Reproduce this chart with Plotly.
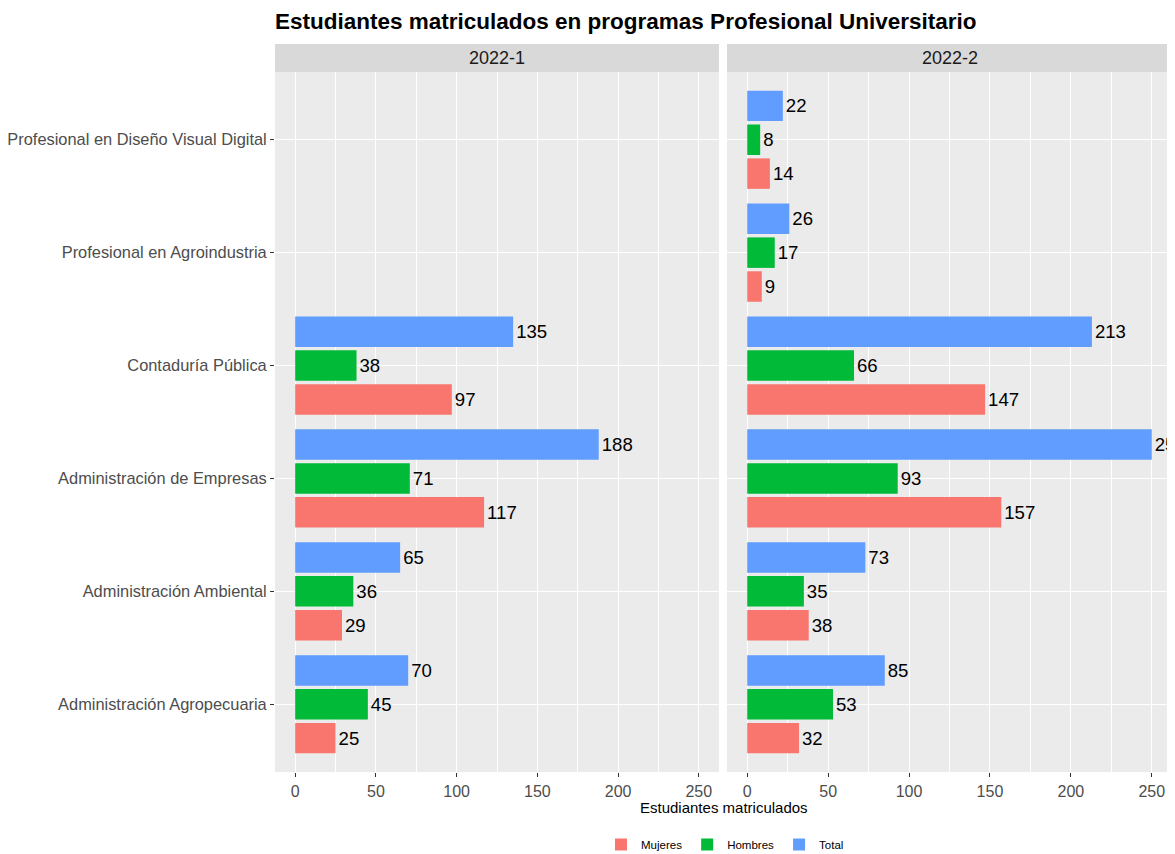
import plotly.graph_objects as go
from plotly.subplots import make_subplots

categories = [
    "Administración Agropecuaria",
    "Administración Ambiental",
    "Administración de Empresas",
    "Contaduría Pública",
    "Profesional en Agroindustria",
    "Profesional en Diseño Visual Digital",
]
periods = ["2022-1", "2022-2"]
series_names = ["Mujeres", "Hombres", "Total"]
series_colors = ["#F8766D", "#00BA38", "#619CFF"]

mujeres_2022_1 = [25, 29, 117, 97, None, None]
hombres_2022_1 = [45, 36, 71, 38, None, None]
total_2022_1 = [70, 65, 188, 135, None, None]

mujeres_2022_2 = [32, 38, 157, 147, 9, 14]
hombres_2022_2 = [53, 35, 93, 66, 17, 8]
total_2022_2 = [85, 73, 250, 213, 26, 22]

data = {
    "2022-1": [mujeres_2022_1, hombres_2022_1, total_2022_1],
    "2022-2": [mujeres_2022_2, hombres_2022_2, total_2022_2],
}

# page body has an 8px default margin, so the figure is drawn 8px smaller
W, H = 1167, 846
ML, MR, MT, MB = 267, 3, 36, 82
PW = W - ML - MR
PH = H - MT - MB
FONT = "Liberation Sans, Arial, sans-serif"

fig = make_subplots(rows=1, cols=2, shared_yaxes=False, horizontal_spacing=0.0)

for ci, period in enumerate(periods):
    for si, name in enumerate(series_names):
        vals = data[period][si]
        fig.add_trace(
            go.Bar(
                x=vals,
                y=categories,
                orientation="h",
                name=name,
                marker=dict(color=series_colors[si], line=dict(width=0)),
                text=[("" if v is None else str(v)) for v in vals],
                textposition="outside",
                textfont=dict(color="black", size=18.6, family=FONT),
                constraintext="none",
                cliponaxis=True,
                showlegend=(ci == 0),
                legendgroup=name,
                hoverinfo="x+y+name",
            ),
            row=1,
            col=ci + 1,
        )

d1 = [0, 444 / PW]
d2 = [452 / PW, 1]
ytop = 700 / PH

axis_common = dict(
    range=[-12.5, 262.5],
    tickvals=[0, 50, 100, 150, 200, 250],
    ticks="outside",
    ticklen=4,
    tickcolor="#333333",
    tickwidth=1,
    tickfont=dict(size=16, color="#4D4D4D", family=FONT),
    ticklabelstandoff=1,
    showgrid=True,
    gridcolor="white",
    gridwidth=1.3,
    zeroline=False,
    showline=False,
    automargin=False,
    minor=dict(tickvals=[25, 75, 125, 175, 225], showgrid=True, gridcolor="white", gridwidth=0.6, ticks=""),
    fixedrange=True,
)
fig.update_xaxes(**axis_common)
fig.update_layout(xaxis=dict(domain=d1), xaxis2=dict(domain=d2))

yaxis_common = dict(
    categoryorder="array",
    categoryarray=categories,
    range=[-0.6, 5.6],
    ticks="outside",
    ticklen=4,
    tickcolor="#333333",
    tickwidth=1,
    tickfont=dict(size=16.4, color="#4D4D4D", family=FONT),
    showgrid=True,
    gridcolor="white",
    gridwidth=1.3,
    zeroline=False,
    showline=False,
    automargin=False,
    domain=[0, ytop],
    fixedrange=True,
)
fig.update_layout(
    yaxis=dict(**yaxis_common),
    yaxis2=dict(**yaxis_common, showticklabels=False, matches="y"),
)
fig.update_layout(yaxis2=dict(ticks=""))

shapes = []
annotations = []
for ci, (dom, period) in enumerate(zip([d1, d2], periods)):
    shapes.append(dict(type="rect", xref="paper", yref="paper", x0=dom[0], x1=dom[1], y0=ytop, y1=1,
                       fillcolor="#D9D9D9", line=dict(width=0), layer="below"))
    annotations.append(dict(text=period, xref="paper", yref="paper", x=(dom[0] + dom[1]) / 2, y=(ytop + 1) / 2,
                            showarrow=False, xanchor="center", yanchor="middle",
                            font=dict(size=18, color="#1A1A1A", family=FONT)))

annotations.append(dict(text="Estudiantes matriculados", xref="paper", yref="paper", x=0.5, y=-35 / PH,
                        showarrow=False, xanchor="center", yanchor="middle",
                        font=dict(size=15, color="black", family=FONT)))

fig.update_layout(
    width=W,
    height=H,
    margin=dict(l=ML, r=MR, t=MT, b=MB, autoexpand=False),
    paper_bgcolor="white",
    plot_bgcolor="#EBEBEB",
    barmode="group",
    bargap=0.1,
    bargroupgap=0.1,
    title=dict(text="<b>Estudiantes matriculados en programas Profesional Universitario</b>",
               x=ML / W, xanchor="left", xref="container", y=1 - 13 / H, yanchor="middle",
               font=dict(size=22.5, color="black", family=FONT)),
    shapes=shapes,
    annotations=annotations,
    legend=dict(orientation="h", x=(717 - ML) / PW, xanchor="center", y=-58 / PH, yanchor="top",
                font=dict(size=11.5, color="black", family=FONT), traceorder="normal",
                itemwidth=30),
    font=dict(family=FONT),
)

fig.write_html("out.html")
